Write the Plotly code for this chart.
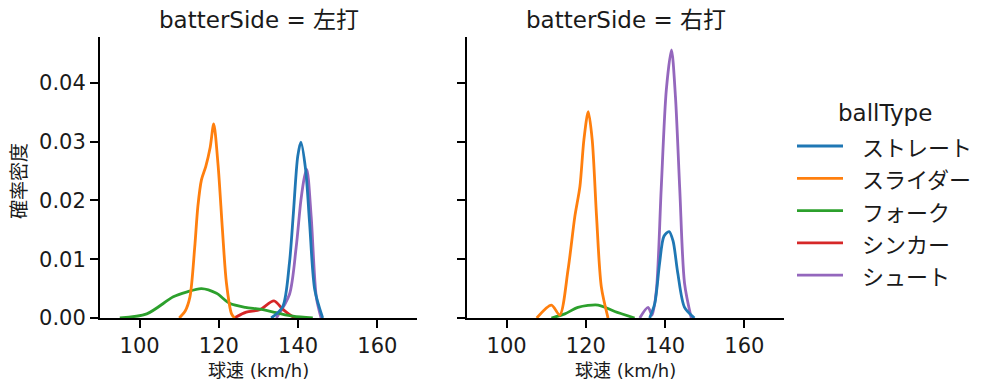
import plotly.graph_objects as go

FONT = "DejaVu Sans, Noto Sans CJK JP"
JFONT = "Noto Sans CJK JP"
ball_types = ["ストレート", "スライダー", "フォーク", "シンカー", "シュート"]
colors = ["#1f77b4", "#ff7f0e", "#2ca02c", "#d62728", "#9467bd"]
sides = ["左打", "右打"]

# Density curves: (x speeds, y densities) per side per ball type
left_straight_x = [133.2, 136.1, 137.8, 138.8, 139.9, 140.7, 141.9, 142.9, 144.2, 146.2]
left_straight_y = [0, 0.0019, 0.0093, 0.0178, 0.0275, 0.0299, 0.0252, 0.0161, 0.0048, 0]
left_slider_x = [110, 111.5, 112.7, 113.9, 114.7, 115.6, 116.7, 117.8, 118.7, 119.8, 120.9, 121.9, 123.2, 124]
left_slider_y = [0, 0.0012, 0.0036, 0.012, 0.019, 0.0235, 0.0258, 0.029, 0.033, 0.026, 0.015, 0.006, 0.0007, 0]
left_fork_x = [95, 101.8, 108.5, 111.8, 115.6, 119.4, 122.7, 126.7, 130.3, 134.5, 138.7, 143.7]
left_fork_y = [0, 0.0007, 0.0036, 0.0044, 0.005, 0.0042, 0.0025, 0.0018, 0.0015, 0.0009, 0.0003, 0]
left_sinker_x = [123.9, 126.9, 130.3, 133.9, 136.1, 138.7, 140.4]
left_sinker_y = [0, 0.001, 0.0014, 0.0029, 0.0015, 0.0002, 0]
left_shoot_x = [134.5, 137.8, 139.5, 140.7, 141.6, 142.2, 143.3, 144.6, 145.8]
left_shoot_y = [0, 0.004, 0.012, 0.020, 0.024, 0.0253, 0.0172, 0.0035, 0]

right_straight_x = [136.1, 137.4, 138.6, 139.7, 141.0, 142.0, 143.2, 144.9, 147.4]
right_straight_y = [0, 0.0025, 0.0093, 0.0139, 0.0147, 0.0131, 0.0076, 0.0018, 0]
right_slider_x = [107.6, 111.3, 113.4, 115.5, 117.2, 118.5, 119.5, 120.6, 121.6, 122.7, 123.9, 125.6]
right_slider_y = [0, 0.0022, 0.0005, 0.0082, 0.0172, 0.0224, 0.0303, 0.0351, 0.0303, 0.0172, 0.0053, 0]
right_fork_x = [111.3, 114.7, 118.0, 123.1, 127.3, 132.3]
right_fork_y = [0, 0.0007, 0.0018, 0.0022, 0.0011, 0]
right_shoot_x = [133.6, 135.7, 136.7, 137.8, 139.0, 140.3, 141.6, 142.6, 143.7, 144.9, 146.6]
right_shoot_y = [0, 0.0018, 0.0005, 0.0048, 0.0218, 0.0388, 0.0456, 0.0377, 0.0218, 0.0059, 0]

curves = {
    "左打": {
        "ストレート": (left_straight_x, left_straight_y),
        "スライダー": (left_slider_x, left_slider_y),
        "フォーク": (left_fork_x, left_fork_y),
        "シンカー": (left_sinker_x, left_sinker_y),
        "シュート": (left_shoot_x, left_shoot_y),
    },
    "右打": {
        "ストレート": (right_straight_x, right_straight_y),
        "スライダー": (right_slider_x, right_slider_y),
        "フォーク": (right_fork_x, right_fork_y),
        "シュート": (right_shoot_x, right_shoot_y),
    },
}

x_ticks = [100, 120, 140, 160]
y_ticks = [0.0, 0.01, 0.02, 0.03, 0.04]
y_tick_labels = ["0.00", "0.01", "0.02", "0.03", "0.04"]

W, H = 995, 391
TXT = "#1a1a1a"
LW = 2.8
fig = go.Figure()

for si, side in enumerate(sides):
    xa = "x" if si == 0 else "x2"
    ya = "y" if si == 0 else "y2"
    for bt, col in reversed(list(zip(ball_types, colors))):
        if bt not in curves[side]:
            continue
        xs, ys = curves[side][bt]
        fig.add_trace(go.Scatter(
            x=xs, y=ys, mode="lines", xaxis=xa, yaxis=ya,
            line=dict(color=col, width=LW, shape="spline", smoothing=0.8),
            showlegend=False, hoverinfo="skip"))

# legend drawn as paper-space samples
leg_y0 = 146
leg_dy = 32.3
for i, (bt, col) in enumerate(zip(ball_types, colors)):
    py = leg_y0 + i * leg_dy
    fig.add_shape(type="line", xref="paper", yref="paper",
                  x0=797 / W, x1=843 / W, y0=1 - py / H, y1=1 - py / H,
                  line=dict(color=col, width=LW))
    fig.add_annotation(text=bt, xref="paper", yref="paper", x=860 / W, y=1 - py / H,
                       xanchor="left", yanchor="middle", showarrow=False,
                       font=dict(family=JFONT, size=22, color=TXT))
fig.add_annotation(text="ballType", xref="paper", yref="paper", x=885 / W, y=1 - 113 / H,
                   xanchor="center", yanchor="middle", showarrow=False,
                   font=dict(family=FONT, size=23, color=TXT))

# facet titles and axis titles
for si, side in enumerate(sides):
    cx = (100 + 417) / 2 if si == 0 else (467 + 784) / 2
    fig.add_annotation(text=f"batterSide = {side}", xref="paper", yref="paper",
                       x=cx / W, y=1 - 20 / H, xanchor="center", yanchor="middle",
                       showarrow=False, font=dict(family=FONT, size=23, color=TXT))
    fig.add_annotation(text="球速 (km/h)", xref="paper", yref="paper",
                       x=cx / W, y=1 - 370 / H, xanchor="center", yanchor="middle",
                       showarrow=False, font=dict(family=FONT, size=18, color=TXT))
fig.add_annotation(text="確率密度", xref="paper", yref="paper", textangle=-90,
                   x=17 / W, y=1 - 181 / H, xanchor="center", yanchor="middle",
                   showarrow=False, font=dict(family=JFONT, size=19, color=TXT))

axis_common = dict(showline=True, linecolor="black", linewidth=2, ticks="outside",
                   ticklen=8, tickwidth=2, tickcolor="black", showgrid=False, zeroline=False,
                   automargin=False, tickfont=dict(family=FONT, size=21, color=TXT))

ybot = 1 - 318 / H
ytop = 1 - 37 / H
fig.update_layout(
    width=W, height=H, margin=dict(l=0, r=0, t=0, b=0),
    plot_bgcolor="white", paper_bgcolor="white", showlegend=False,
    xaxis=dict(domain=[100 / W, 417 / W], range=[90, 170], tickvals=x_ticks,
               anchor="y", **axis_common),
    xaxis2=dict(domain=[467 / W, 784 / W], range=[90, 170], tickvals=x_ticks,
                anchor="y2", **axis_common),
    yaxis=dict(domain=[ybot, ytop], range=[0, 0.0478], tickvals=y_ticks, ticktext=y_tick_labels,
               anchor="x", **axis_common),
    yaxis2=dict(domain=[ybot, ytop], range=[0, 0.0478], tickvals=y_ticks, showticklabels=False,
                anchor="x2", matches="y", **axis_common),
)

fig.write_html("out.html", config={"displayModeBar": False},
               post_script="document.body.style.margin='0';document.body.style.overflow='hidden';")
